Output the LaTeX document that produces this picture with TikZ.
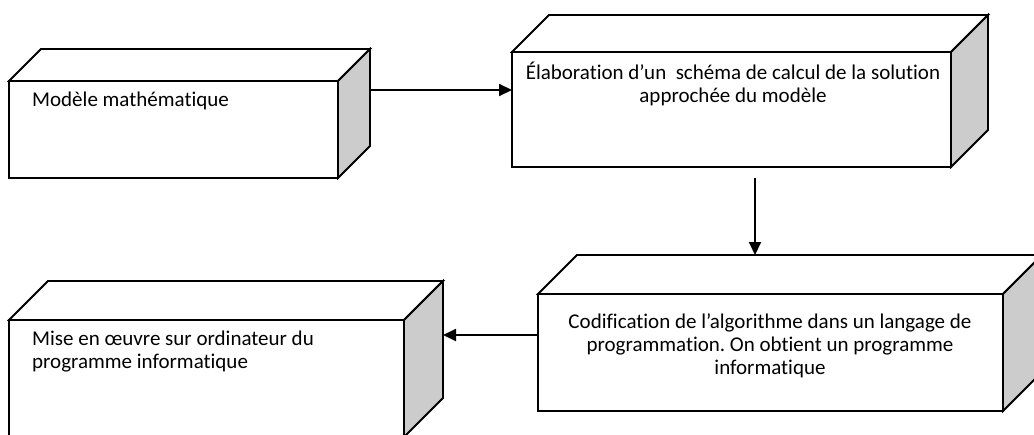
\documentclass[tikz,border=0pt]{standalone}
\usepackage{fontspec}
\setmainfont{Carlito}[Ligatures=NoCommon]
\frenchspacing
\usetikzlibrary{arrows.meta,calc}
\tikzset{
  face/.style={draw, line width=1.8pt, fill=white, inner sep=0pt, outer sep=0pt},
  topface/.style={draw, line width=1.8pt, fill=white, line join=miter},
  sideface/.style={draw, line width=1.8pt, fill=black!20, line join=miter},
  arr/.style={line width=1.8pt, -{Triangle[length=13pt,width=12pt]}},
  txt/.style={font=\fontsize{21}{23}\selectfont, inner sep=0pt},
}
% #1 name, #2 x1, #3 y1, #4 x2, #5 y2, #6 depth
\newcommand{\mycuboid}[6]{%
  \node[face, minimum width={#4-#2}, minimum height={#5-#3}] (#1) at ({(#2+#4)/2},{(#3+#5)/2}) {};
  \coordinate (#1-bnw) at ([shift={(#6,-#6)}]#1.north west);
  \coordinate (#1-bne) at ([shift={(#6,-#6)}]#1.north east);
  \coordinate (#1-bse) at ([shift={(#6,-#6)}]#1.south east);
  \draw[topface] (#1.north west) -- (#1-bnw) -- (#1-bne) -- (#1.north east) -- cycle;
  \draw[sideface] (#1.north east) -- (#1-bne) -- (#1-bse) -- (#1.south east) -- cycle;
}
\begin{document}
\begin{tikzpicture}[x=1pt,y=-1pt]
\useasboundingbox (0,0) rectangle (1034,434);
\clip (0,0) rectangle (1034,434);
\mycuboid{b1}{9}{81}{338}{178}{32}
\mycuboid{b2}{512}{52}{951}{167}{37}
\mycuboid{b3}{538}{294}{1003}{411}{39}
\mycuboid{b4}{9}{320}{404}{437}{39}

\node[txt, anchor=west] (t1) at (32,101) {Modèle mathématique};
\node[txt, align=center] (t2) at (733,84) {Élaboration d’un\ \ schéma de calcul de la solution\\approchée du modèle};
\node[txt, align=center] (t3) at (770,346) {Codification de l’algorithme dans un langage de\\programmation. On obtient un programme\\informatique};
\node[txt, align=left, anchor=west] (t4) at (32,352) {Mise en œuvre sur ordinateur du\\programme informatique};

\coordinate (s1) at (370,90);
\draw[arr] (s1) -- (s1 -| b2.west);
\coordinate (s2) at (755,178);
\draw[arr] (s2) -- (s2 |- b3-bnw);
\coordinate (s3) at (b3.west |- 0,335);
\draw[arr] (s3) -- (s3 -| b4-bne);
\end{tikzpicture}
\end{document}
